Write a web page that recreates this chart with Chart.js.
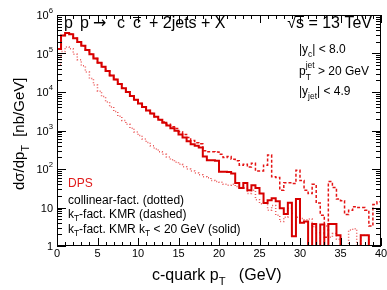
<!DOCTYPE html>
<html>
<head>
<meta charset="utf-8">
<title>DPS c-quark pT</title>
<script src="https://cdn.jsdelivr.net/npm/chart.js@4.4.1/dist/chart.umd.min.js"></script>
<style>
  html, body { margin: 0; padding: 0; background: #fff; }
  canvas { display: block; }
</style>
</head>
<body>
<canvas id="dps" width="387" height="290"></canvas>
<script>
// c-quark pT bins, 0.5 GeV wide, 0..40 GeV (0 = empty bin)
const binWidth = 0.5;
const binLow = Array.from({length: 80}, (_, i) => i * binWidth);

// kT-fact. KMR, kT < 20 GeV (solid)
const kmrCut = [
  1.3e5, 2.95e5, 3.4e5, 3.15e5, 2.5e5, 2.0e5, 1.58e5, 1.23e5, 9.5e4, 7.4e4,
  5.75e4, 4.5e4, 3.5e4, 2.7e4, 2.1e4, 1.62e4, 1.26e4, 1.0e4, 7900, 6300,
  5000, 4070, 3300, 2750, 2290, 1900, 1580, 1350, 1150, 980,
  790, 660, 525, 440, 400, 360, 210, 170, 170, 165,
  85, 85, 83, 76, 43, 32, 43, 28, 38, 32,
  23, 13, 15.5, 17.4, 14.5, 9.5, 6.8, 13.2, 1.8, 16.6,
  4.0, 4.3, 0, 3.7, 0, 3.6, 0, 3.7, 3.7, 1.9,
  0, 0, 0, 0, 0, 1.9, 1.9, 0, 0, 0
];

// kT-fact. KMR (dashed)
const kmr = [
  1.3e5, 2.95e5, 3.4e5, 3.15e5, 2.5e5, 2.0e5, 1.58e5, 1.23e5, 9.5e4, 7.4e4,
  5.75e4, 4.5e4, 3.5e4, 2.7e4, 2.1e4, 1.62e4, 1.26e4, 1.0e4, 7900, 6300,
  5000, 4070, 3300, 2750, 2290, 1900, 1660, 1450, 1260, 1120,
  930, 790, 660, 550, 480, 450, 300, 280, 280, 275,
  240, 200, 210, 180, 165, 126, 132, 112, 141, 89,
  89, 126, 230, 63, 60, 28, 44, 44, 42, 93,
  50, 28, 23, 40, 13, 6.3, 1.7, 47, 33, 16.6,
  15, 6.6, 8.5, 10.5, 10, 10, 8.5, 3.3, 12, 14
];

// collinear-fact. (dotted)
const collinear = [
  5.0e4, 1.12e5, 1.48e5, 1.32e5, 9.5e4, 6.9e4, 4.8e4, 3.3e4, 2.24e4, 1.51e4,
  1.05e4, 7600, 5500, 4100, 3100, 2340, 1820, 1450, 1150, 910,
  740, 600, 490, 400, 330, 280, 240, 205, 175, 150,
  132, 115, 100, 89, 79, 71, 63, 59, 50, 47,
  45, 40, 38, 40, 35, 33, 32, 23, 28, 16,
  12.6, 13.2, 8.5, 11.2, 6.3, 4.3, 5.6, 9.5, 7.1, 5.6,
  5.2, 4.8, 5.0, 3.2, 2.2, 0, 3.3, 1.7, 2.1, 1.5,
  0, 0, 2.6, 2.8, 0, 1.9, 1.9, 0, 0, 0
];

const xTicks = [0, 5, 10, 15, 20, 25, 30, 35, 40];
const yTicks = [1, 10, 1e2, 1e3, 1e4, 1e5, 1e6];
const yTickLabels = [['1', ''], ['10', ''], ['10', '2'], ['10', '3'], ['10', '4'], ['10', '5'], ['10', '6']];

const FAMILY = '"Liberation Sans", Arial, sans-serif';
const font = (s) => `${s}px ${FAMILY}`;

// histogram as step line: point at each left edge + closing point at 40
function toPoints(vals) {
  const pts = binLow.map((x, i) => ({x: x, y: vals[i] > 0 ? vals[i] : 0.1}));
  pts.push({x: 40, y: pts[pts.length - 1].y});
  return pts;
}

// parts: [text, dy, scale]
function rich(ctx, x, y, parts, size, align) {
  const widths = parts.map(p => {
    ctx.font = font(size * (p[2] || 1));
    return ctx.measureText(p[0]).width;
  });
  const total = widths.reduce((s, w) => s + w, 0);
  let cx = align === 'right' ? x - total : align === 'center' ? x - total / 2 : x;
  const start = cx;
  parts.forEach((p, i) => {
    ctx.font = font(size * (p[2] || 1));
    ctx.fillText(p[0], cx, y + (p[1] || 0));
    cx += widths[i];
  });
  return start;
}

function line(ctx, x1, y1, x2, y2) {
  ctx.beginPath();
  ctx.moveTo(x1, y1);
  ctx.lineTo(x2, y2);
  ctx.stroke();
}

const rootFrame = {
  id: 'rootFrame',
  afterDatasetsDraw(chart) {
    const {ctx, chartArea: a, scales: {x, y}} = chart;
    ctx.save();
    ctx.strokeStyle = '#000';
    ctx.fillStyle = '#000';
    ctx.lineWidth = 1;
    ctx.strokeRect(a.left + 0.5, a.top + 0.5, a.right - a.left - 1, a.bottom - a.top - 1);

    // x ticks, bottom and top
    for (let v = 0; v <= 40; v++) {
      const px = Math.round(x.getPixelForValue(v)) + 0.5;
      const len = xTicks.includes(v) ? 8 : 4;
      line(ctx, px, a.bottom, px, a.bottom - len);
      line(ctx, px, a.top, px, a.top + len);
    }
    // y ticks, left and right (log)
    for (let d = 0; d < 6; d++) {
      for (let m = 1; m <= 9; m++) {
        const py = Math.round(y.getPixelForValue(m * Math.pow(10, d))) + 0.5;
        const len = m === 1 ? 9 : 5;
        line(ctx, a.left, py, a.left + len, py);
        line(ctx, a.right, py, a.right - len, py);
      }
    }

    ctx.textBaseline = 'alphabetic';
    ctx.textAlign = 'left';
    // tick labels
    xTicks.forEach(v => {
      rich(ctx, x.getPixelForValue(v), 257, [[String(v)]], 11, 'center');
    });
    yTicks.forEach((v, i) => {
      const py = y.getPixelForValue(v);
      const [base, exp] = yTickLabels[i];
      const parts = [[base]];
      if (exp) parts.push([exp, -6, 0.7]);
      rich(ctx, 53, py + 4, parts, 11, 'right');
    });

    // axis titles
    rich(ctx, 152, 280, [['c-quark p'], ['T', 5, 0.7], ['   (GeV)']], 16, 'left');
    ctx.save();
    ctx.translate(24, 190);
    ctx.rotate(-Math.PI / 2);
    rich(ctx, 0, 0, [['d\u03c3/dp'], ['T', 5, 0.7], ['  [nb/GeV]']], 15, 'left');
    ctx.restore();

    // process header
    const hy = 28;
    ctx.font = font(16);
    ctx.fillText('p', 64, hy);
    ctx.fillText('p', 80, hy);
    ctx.font = '16px "DejaVu Sans", sans-serif';
    ctx.fillText('\u2192', 93, hy);
    ctx.font = font(16);
    ctx.fillText('c', 117, hy);
    ctx.fillText('c', 133, hy);
    line(ctx, 133, hy - 10.5, 141, hy - 10.5);
    ctx.fillText('+ 2jets + X', 149, hy);

    const sqStart = rich(ctx, 372, hy, [['\u221as = 13 TeV']], 16, 'right');
    ctx.font = font(16);
    const rootW = ctx.measureText('\u221a').width;
    const sW = ctx.measureText('s').width;
    line(ctx, sqStart + rootW - 1, hy - 11.5, sqStart + rootW + sW, hy - 11.5);

    // cuts
    rich(ctx, 299, 53, [['|y'], ['c', 4, 0.7], ['| < 8.0']], 12, 'left');
    ctx.font = font(12);
    ctx.fillText('p', 299, 75);
    const pw = ctx.measureText('p').width;
    ctx.font = font(8.5);
    ctx.fillText('jet', 299 + pw, 68);
    ctx.fillText('T', 299 + pw, 80);
    const jw = ctx.measureText('jet').width;
    rich(ctx, 299 + pw + jw, 75, [[' > 20 GeV']], 12, 'left');
    rich(ctx, 299, 95, [['|y'], ['jet', 4, 0.7], ['| < 4.9']], 12, 'left');

    // legend text
    ctx.fillStyle = '#e01a1a';
    rich(ctx, 68, 187, [['DPS']], 12, 'left');
    ctx.fillStyle = '#000';
    rich(ctx, 68, 204, [['collinear-fact. (dotted)']], 12, 'left');
    rich(ctx, 68, 218, [['k'], ['T', 3, 0.7], ['-fact. KMR (dashed)']], 12, 'left');
    rich(ctx, 68, 233, [['k'], ['T', 3, 0.7], ['-fact. KMR k'], ['T', 3, 0.7], [' < 20 GeV (solid)']], 12, 'left');
    ctx.restore();
  }
};

const ctx = document.getElementById('dps').getContext('2d');

new Chart(ctx, {
  type: 'line',
  data: {
    datasets: [{
      label: 'kT-fact. KMR kT < 20 GeV (solid)',
      data: toPoints(kmrCut),
      borderColor: 'rgb(215, 0, 0)',
      borderWidth: 2,
      stepped: 'before',
      pointRadius: 0,
      clip: 0
    }, {
      label: 'kT-fact. KMR (dashed)',
      data: toPoints(kmr),
      borderColor: 'rgb(228, 20, 20)',
      borderWidth: 1.5,
      borderDash: [3, 2],
      stepped: 'before',
      pointRadius: 0,
      clip: 0
    }, {
      label: 'collinear-fact. (dotted)',
      data: toPoints(collinear),
      borderColor: 'rgb(235, 90, 90)',
      borderWidth: 1.5,
      borderDash: [1, 2],
      stepped: 'before',
      pointRadius: 0,
      clip: 0
    }]
  },
  options: {
    responsive: false,
    animation: false,
    devicePixelRatio: 1,
    layout: {padding: {left: 0, right: 6, top: 15, bottom: 0}},
    plugins: {legend: {display: false}, tooltip: {enabled: false}},
    scales: {
      x: {
        type: 'linear', min: 0, max: 40,
        grid: {display: false}, border: {display: false},
        ticks: {display: false},
        afterFit: (s) => { s.height = 44; }
      },
      y: {
        type: 'logarithmic', min: 1, max: 1e6,
        grid: {display: false}, border: {display: false},
        ticks: {display: false},
        afterFit: (s) => { s.width = 57; }
      }
    }
  },
  plugins: [rootFrame]
});
</script>
</body>
</html>
